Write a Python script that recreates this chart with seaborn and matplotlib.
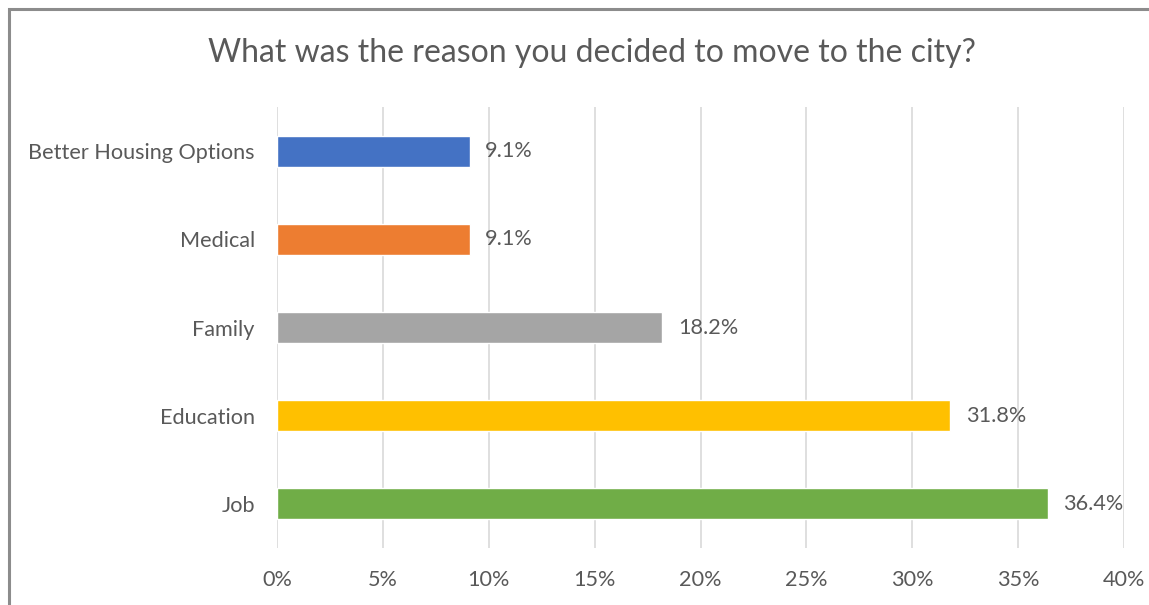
import matplotlib
matplotlib.use("Agg")
import matplotlib.pyplot as plt
import seaborn as sns
import pandas as pd
from matplotlib.patches import Rectangle

categories = ["Better Housing Options", "Medical", "Family", "Education", "Job"]
shares = [9.1, 9.1, 18.2, 31.8, 36.4]
bar_colors = ["#4472C4", "#ED7D31", "#A5A5A5", "#FFC000", "#70AD47"]
x_ticks = [0, 5, 10, 15, 20, 25, 30, 35, 40]
title = "What was the reason you decided to move to the city?"

sns.set_theme(style="white")
plt.rcParams["font.family"] = ["Lato", "DejaVu Sans"]
text_color = "#595959"

df = pd.DataFrame({"reason": categories, "share": shares})

fig = plt.figure(figsize=(11.49, 6.05), dpi=100)
ax = fig.add_axes([0.2411, 0.0942, 0.7372, 0.7289])

sns.barplot(data=df, x="share", y="reason", hue="reason", palette=bar_colors,
            order=categories, hue_order=categories, width=0.35, legend=False,
            saturation=1, ax=ax)

ax.set_xlim(0, 40)
ax.set_ylim(4.5, -0.5)
ax.set_xticks(x_ticks)
ax.set_xticklabels([f"{t}%" for t in x_ticks])
ax.xaxis.grid(True, color="#D9D9D9", linewidth=1.2)
ax.set_axisbelow(True)
for s in ax.spines.values():
    s.set_visible(False)
ax.set_xlabel("")
ax.set_ylabel("")
ax.tick_params(axis="x", length=0, pad=16, labelsize=15.6, labelcolor=text_color)
ax.tick_params(axis="y", length=0, pad=16, labelsize=15.6, labelcolor=text_color)

for i, v in enumerate(shares):
    ax.annotate(f"{v}%", xy=(v, i), xytext=(11, 0), textcoords="offset points",
                va="center", ha="left", fontsize=15.6, color=text_color)

fig.text(0.5148, 0.912, title, ha="center", va="center", fontsize=23, color=text_color)

# outer chart frame
fig.patches.append(Rectangle((9 / 1149, -0.1), 1.2, 0.1 + (605 - 9.5) / 605,
                             transform=fig.transFigure, fill=False,
                             edgecolor="#8C8C8C", linewidth=2.2))

fig.savefig("out.png", dpi=100, facecolor="white")
